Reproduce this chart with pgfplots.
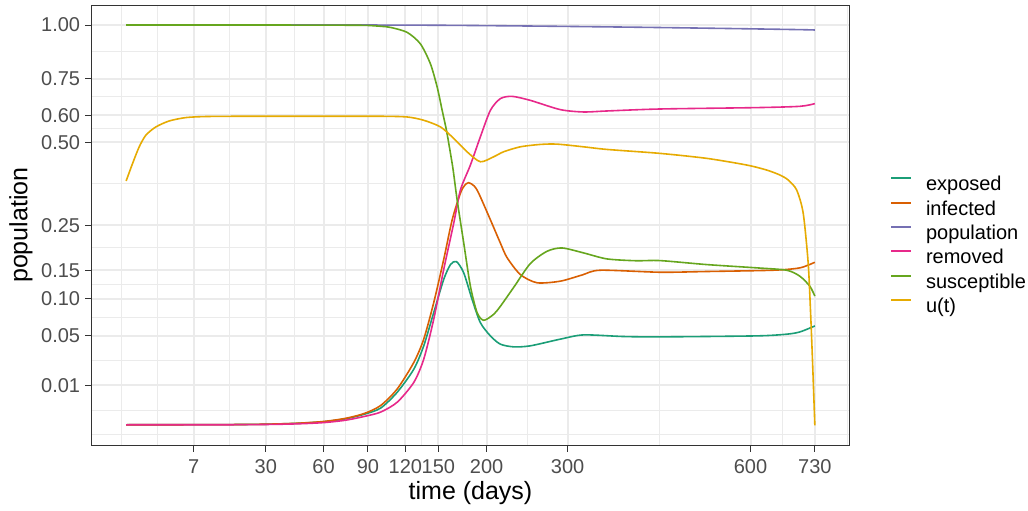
\documentclass[border=0pt]{standalone}
\usepackage{fontspec}
\setmainfont{Liberation Sans}
\usepackage{pgfplots}
\pgfplotsset{compat=1.18}
\definecolor{grey92}{HTML}{EBEBEB}
\definecolor{grey20}{HTML}{333333}
\definecolor{grey30}{HTML}{4D4D4D}
\definecolor{cexp}{HTML}{1B9E77}
\definecolor{cinf}{HTML}{D95F02}
\definecolor{cpop}{HTML}{7570B3}
\definecolor{crem}{HTML}{E7298A}
\definecolor{csus}{HTML}{66A61E}
\definecolor{cu}{HTML}{E6AB02}
\begin{document}
\begin{tikzpicture}
\begin{axis}[
  scale only axis, width=378.8pt, height=220.15pt,
  xmin=-1.351, xmax=28.37, ymin=-0.05, ymax=1.05,
  x filter/.expression={sqrt(x)}, y filter/.expression={sqrt(y)},
  xtick={2.6458,5.4772,7.7460,9.4868,10.9545,12.2474,14.1421,17.3205,24.4949,27.0185},
  xticklabels={7,30,60,90,120,150,200,300,600,730},
  minor xtick={-0.1857,1.2301,4.0615,6.6116,8.6164,10.2206,11.6009,13.1948,15.7313,20.9077,25.7567,28.2802},
  ytick={0.1,0.22361,0.31623,0.38730,0.5,0.70711,0.77460,0.86603,1},
  yticklabels={0.01,0.05,0.10,0.15,0.25,0.50,0.60,0.75,1.00},
  minor ytick={-0.0236,0.0382,0.1618,0.2699,0.3518,0.4437,0.6036,0.7409,0.8203,0.9330},
  grid=both,
  major grid style={color=grey92, line width=1pt},
  minor grid style={color=grey92, line width=0.5pt},
  axis line style={grey20, line width=0.5pt},
  tick style={grey20, line width=0.5pt},
  major tick length=3.1pt, minor tick length=0pt, tick align=outside,
  xtick pos=bottom, ytick pos=left,
  xticklabel style={font=\fontsize{10}{12}\selectfont, text=grey30, anchor=north, inner sep=0pt, yshift=-3.7pt},
  yticklabel style={font=\fontsize{10}{12}\selectfont, text=grey30, anchor=east, inner sep=0pt, xshift=-2.5pt},
  xlabel={time (days)}, ylabel={population},
  xlabel style={font=\fontsize{12.5}{14}\selectfont, at={(axis description cs:0.5,0)}, anchor=center, yshift=-24pt},
  ylabel style={font=\fontsize{12.5}{14}\selectfont, at={(axis description cs:0,0.5)}, anchor=center, yshift=35.35pt},
  legend style={draw=none, fill=none, at={(1.05372,0.6148)}, anchor=north west, inner sep=0pt, outer sep=0pt,
    row sep=2pt, font=\fontsize{10}{12}\selectfont,
    nodes={inner sep=0pt, text height=8pt, text depth=2.2pt},
    /tikz/every odd column/.append style={column sep=7pt}},
  legend cell align=left,
  legend image code/.code={\draw[#1, line width=1pt] (0pt,3.3pt) -- (10pt,3.3pt);},
  every axis plot/.append style={line width=0.8pt, smooth, tension=0.45},
]
% exposed
\addplot[cexp] table {
0 1.5e-6
15 3e-6
30 7e-6
45 2.4e-5
60 8e-5
74 0.00026
87 0.00075
99.6 0.00183
113.1 0.00681
127.4 0.0197
136.3 0.0394
145.6 0.0792
155.2 0.1327
161.9 0.1612
167.9 0.1673
175.4 0.1451
184.2 0.0989
193.1 0.0658
204.2 0.0499
215.5 0.0411
231.1 0.0384
251.4 0.0394
290 0.0463
322 0.051
380 0.0492
438.8 0.0488
611.9 0.0499
671.4 0.0518
698.6 0.0544
730 0.0616
};
\addlegendentry{exposed}
% infected
\addplot[cinf] table {
0 1.5e-6
15 3e-6
30 7.5e-6
45 2.6e-5
60 9e-5
74 0.0003
87 0.00085
99.6 0.00242
113.1 0.00824
127.4 0.0247
136.3 0.0463
145.6 0.0938
155.2 0.1714
163.6 0.2636
172.0 0.3362
176.3 0.3590
180.6 0.3674
186.4 0.3575
191.3 0.3362
204.2 0.2636
215.5 0.2075
223.3 0.1755
239.1 0.1419
259.8 0.1268
290 0.1296
320 0.141
345.9 0.1501
438.8 0.1462
518.8 0.1476
644.5 0.1501
698.6 0.1547
730 0.1659
};
\addlegendentry{infected}
% population
\addplot[cpop] table {
0 1.0
60 1.0
100 0.9998
130 0.9993
160 0.9985
200 0.997
250 0.995
300 0.993
400 0.989
500 0.985
600 0.981
700 0.977
730 0.9753
};
\addlegendentry{population}
% removed
\addplot[crem] table {
0 1.5e-6
15 2e-6
30 4e-6
45 1.3e-5
60 4.5e-5
74 0.00016
87 0.00048
99.6 0.00108
113.1 0.00333
127.4 0.01154
136.3 0.0273
145.6 0.0701
155.2 0.1514
165.2 0.2553
172.0 0.3458
182.4 0.4227
193.1 0.5192
204.2 0.6192
215.5 0.6659
229.2 0.6753
251.4 0.659
290 0.622
322 0.6127
355.7 0.6166
438.8 0.6244
611.9 0.6299
698.6 0.635
730 0.6458
};
\addlegendentry{removed}
% susceptible
\addplot[csus] table {
0 1.0
30 0.99995
60 0.9995
80 0.9988
89.5 0.998
100 0.9935
107.6 0.9881
121.6 0.9635
133.3 0.9078
142.5 0.8155
148.9 0.7138
153.7 0.6192
157.9 0.5435
161.9 0.4614
164.6 0.4067
168.6 0.3172
175.4 0.2075
182.4 0.1208
189.6 0.0792
196.8 0.0688
207.9 0.0769
215.5 0.0883
231.1 0.1186
251.4 0.1632
272.6 0.1889
292.3 0.1963
322 0.1855
355.7 0.1728
400 0.1690
438.8 0.1693
518.8 0.1612
611.9 0.1547
671.4 0.1501
698.6 0.1387
719.4 0.1208
730 0.1042
};
\addlegendentry{susceptible}
% u(t)
\addplot[cu] table {
0 0.3726
0.065 0.4283
0.263 0.484
0.6 0.5253
1.36 0.5556
2.85 0.578
5.49 0.591
9.77 0.595
20 0.596
60 0.596
100 0.596
121.6 0.5933
136.3 0.5807
152.1 0.5556
165.2 0.5135
178.9 0.4668
193.1 0.4335
207.9 0.4500
219.3 0.4669
239.1 0.484
264 0.4923
285.7 0.4934
322 0.484
355.7 0.475
438.8 0.4614
518.8 0.4447
592.6 0.4228
631.3 0.4067
657.8 0.391
674.5 0.3756
691.9 0.3457
705.5 0.281
715.9 0.1647
721 0.0792
725.2 0.0247
728 0.0043
730 0.0
};
\addlegendentry{u(t)}
\end{axis}
\pgfresetboundingbox
\path[use as bounding box] (-45.85pt,-32.35pt) rectangle (468.15pt,222.65pt);
\end{tikzpicture}
\end{document}
